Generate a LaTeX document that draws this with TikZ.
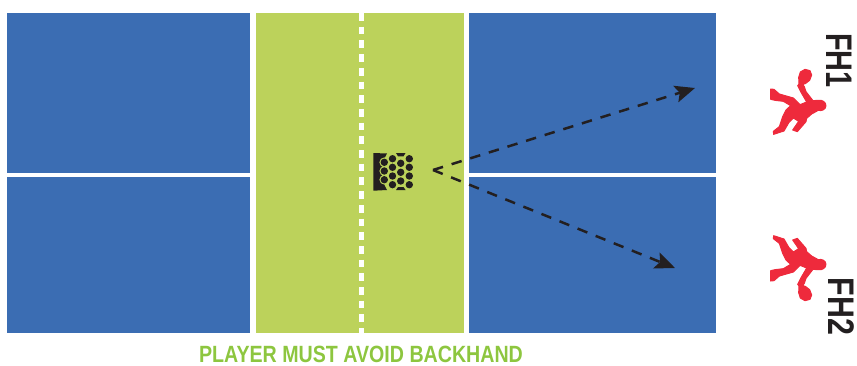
\documentclass[tikz,border=0pt]{standalone}
\usepackage{fontspec}
\setmainfont{Liberation Sans}
\usetikzlibrary{arrows.meta}
\definecolor{courtblue}{HTML}{3B6DB3}
\definecolor{kitchen}{HTML}{BCD25B}
\definecolor{captiongreen}{HTML}{8DC63F}
\definecolor{playerred}{HTML}{EE2A3C}
\definecolor{inkdark}{HTML}{231F20}
\tikzset{
  court/.style={fill=courtblue,draw=none},
  zone/.style={fill=kitchen,draw=none},
  shot/.style={inkdark,line width=2.5pt,dash pattern=on 10.5pt off 9pt,-{Stealth[length=20pt,width=17pt,inset=4pt]}},
  ball/.style={fill=inkdark,draw=none},
  playerbody/.style={fill=playerred,draw=playerred,line width=1pt,line join=round},
  playerlabel/.style={inkdark,font=\bfseries\fontsize{37}{37}\selectfont,rotate=-90,inner sep=0pt,anchor=center},
}
\newcommand{\playerfig}{%
  \path[playerbody] (147,192) -- (146,172) -- (151,156) -- (165,148) -- (180,152) -- (185,165)
    -- (179,181) -- (166,191) -- (158,193)
    -- (163,200) -- (168,215) -- (189,242) -- (204,241)
    .. controls (216,238) and (229,247) .. (228,258) .. controls (227,269) and (214,274) .. (205,271)
    -- (185,282) -- (170,295) -- (168,305) -- (142,335) -- (128,330) -- (146,304) -- (130,294)
    -- (117,307) -- (102,333) -- (71,343) -- (70,334) -- (88,320) -- (98,290) -- (108,270)
    -- (122,257) -- (100,244) -- (75,241) -- (62,238) -- (62,207) -- (72,208) -- (88,222)
    -- (130,234) -- (150,254) -- (170,246) -- (152,215) -- (143,197) -- cycle;
}
\begin{document}
\begin{tikzpicture}[x=1pt,y=-1pt]
\useasboundingbox (0,0) rectangle (857,365);
\node[court,minimum width=243pt,minimum height=160pt,inner sep=0pt,anchor=north west] (c1) at (7,13) {};
\node[court,minimum width=243pt,minimum height=156pt,inner sep=0pt,anchor=north west] (c2) at (7,177) {};
\node[court,minimum width=247pt,minimum height=160pt,inner sep=0pt,anchor=north west] (c3) at (469,13) {};
\node[court,minimum width=247pt,minimum height=156pt,inner sep=0pt,anchor=north west] (c4) at (469,177) {};
\node[zone,minimum width=208pt,minimum height=320pt,inner sep=0pt,anchor=north west] (k) at (256,13) {};
\coordinate (ntop) at (361.3,13);
\coordinate (nbot) at (361.3,333);
\draw[white,line width=4.4pt,dash pattern=on 7.7pt off 6pt] (ntop) -- (nbot);
% basket
\fill[inkdark] (373.3,153) -- (387,153.5) .. controls (380,165) and (380,178) .. (387,190) -- (373.3,190.7) -- cycle;
\foreach \ry in {162.3,171,179.7}
  \fill[kitchen] (384.3,\ry) circle (4.9pt);
\fill[inkdark] (396,153) -- (405.5,153) -- (403.5,156.3) -- (398,156.3) -- cycle;
\fill[inkdark] (396,190) -- (405.5,190) -- (403.5,187) -- (398,187) -- cycle;
\foreach \bx/\by in {384.3/162.3,384.3/171,384.3/179.7,
  392.5/158.7,392.5/167.3,392.5/176,392.5/184.7,
  400.7/163.3,400.7/172.3,400.7/181,
  409.3/158.7,409.3/167.3,409.3/176,409.3/184.7}
  \fill[ball] (\bx,\by) circle (3.7pt);
% shots
\coordinate (o) at (433,170);
\coordinate (t1) at (695,88);
\coordinate (t2) at (675,268);
\draw[shot] (o) -- (t1);
\draw[shot] (o) -- (t2);
% players
\begin{scope}[shift={(750,20)},x=0.3333pt,y=-0.3333pt]\playerfig\end{scope}
\begin{scope}[shift={(750,350)},x=0.3333pt,y=0.3333pt]\playerfig\end{scope}
\node[playerlabel] (l1) at (839,60.5) {\scalebox{.78}[1]{FH1}};
\node[playerlabel] (l2) at (841.5,306.5) {\scalebox{.82}[1]{FH2}};
\node[inner sep=0pt,text=captiongreen,font=\bfseries\fontsize{23.5}{23.5}\selectfont] (cap) at (361,354.5) {\scalebox{.835}[1]{PLAYER MUST AVOID BACKHAND}};
\end{tikzpicture}
\end{document}
